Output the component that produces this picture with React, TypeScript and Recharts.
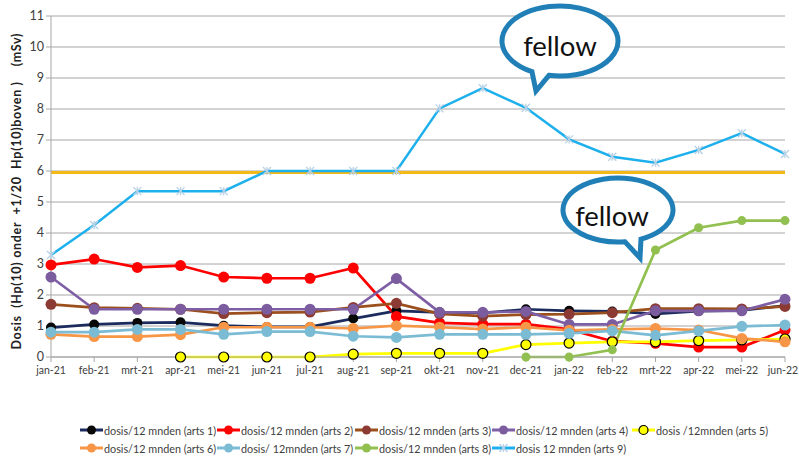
import React from 'react';
import { LineChart, Line, XAxis, YAxis, CartesianGrid, ReferenceLine } from 'recharts';

const months = ['jan-21','feb-21','mrt-21','apr-21','mei-21','jun-21','jul-21','aug-21','sep-21','okt-21','nov-21','dec-21','jan-22','feb-22','mrt-22','apr-22','mei-22','jun-22'];

const arts1 = [0.95,1.05,1.10,1.12,1.01,0.97,0.97,1.24,1.49,1.44,1.42,1.54,1.49,1.47,1.39,1.48,1.50,1.66];
const arts2 = [2.97,3.16,2.89,2.95,2.58,2.54,2.54,2.87,1.31,1.10,1.06,1.06,0.89,0.51,0.44,0.32,0.32,0.87];
const arts3 = [1.70,1.59,1.57,1.54,1.40,1.43,1.45,1.60,1.73,1.39,1.32,1.37,1.38,1.43,1.56,1.56,1.55,1.63];
const arts4 = [2.58,1.54,1.54,1.54,1.54,1.54,1.54,1.54,2.53,1.44,1.44,1.47,1.05,1.05,1.49,1.49,1.49,1.86];
const arts5 = [null,null,null,0,0,0,0,0.09,0.12,0.12,0.12,0.40,0.45,0.49,0.49,0.53,0.55,0.58];
const arts6 = [0.73,0.66,0.66,0.72,0.96,0.96,0.96,0.92,1.01,0.96,0.90,0.96,0.86,0.89,0.92,0.87,0.60,0.49];
const arts7 = [0.80,0.80,0.89,0.89,0.73,0.82,0.82,0.67,0.63,0.73,0.73,0.73,0.76,0.84,0.70,0.84,0.99,1.03];
const arts8 = [null,null,null,null,null,null,null,null,null,null,null,0,0,0.23,3.45,4.17,4.40,4.40];
const arts9 = [3.29,4.26,5.35,5.35,5.35,6.0,6.0,6.0,6.0,8.02,8.67,8.04,7.02,6.46,6.27,6.68,7.22,6.55];

const limitValue = 5.95;
const yTicks = [0,1,2,3,4,5,6,7,8,9,10,11];

const seriesNames = [
  'dosis/12 mnden (arts 1)',
  'dosis/12 mnden (arts 2)',
  'dosis/12 mnden (arts 3)',
  'dosis/12 mnden (arts 4)',
  'dosis /12mnden (arts 5)',
  'dosis/12 mnden (arts 6)',
  'dosis/ 12mnden (arts 7)',
  'dosis/12 mnden (arts 8)',
  'dosis 12 mnden (arts 9)',
];
const seriesValues = [arts1, arts2, arts3, arts4, arts5, arts6, arts7, arts8, arts9];

type Style = { line: string; dotFill: string; dotStroke: string; r: number; kind: 'circle' | 'cross' };
const styles: Style[] = [
  { line: '#1c2b5e', dotFill: '#080808', dotStroke: '#080808', r: 5, kind: 'circle' },
  { line: '#ff0000', dotFill: '#ff0000', dotStroke: '#ff0000', r: 5.5, kind: 'circle' },
  { line: '#9b4f1c', dotFill: '#8c3b34', dotStroke: '#8c3b34', r: 5.5, kind: 'circle' },
  { line: '#7e5fa5', dotFill: '#7b5c9e', dotStroke: '#7b5c9e', r: 5.5, kind: 'circle' },
  { line: '#ffff00', dotFill: '#ffff00', dotStroke: '#000000', r: 5, kind: 'circle' },
  { line: '#f79646', dotFill: '#f79646', dotStroke: '#f79646', r: 5.5, kind: 'circle' },
  { line: '#7bbcd4', dotFill: '#7bbcd4', dotStroke: '#7bbcd4', r: 5.5, kind: 'circle' },
  { line: '#92c050', dotFill: '#92c050', dotStroke: '#92c050', r: 4.5, kind: 'circle' },
  { line: '#1eb0ec', dotFill: '#b7d1e6', dotStroke: '#b7d1e6', r: 4, kind: 'cross' },
];

const data = months.map((m, i) => {
  const row: Record<string, string | number | null> = { month: m };
  seriesValues.forEach((arr, k) => { row['a' + (k + 1)] = arr[i]; });
  return row;
});

const FONT = "Lato, 'Liberation Sans', sans-serif";

function makeDot(st: Style) {
  return (props: any) => {
    const { cx, cy, value, index } = props;
    if (value === null || value === undefined || cx == null || cy == null || isNaN(cy)) {
      return <g key={'d' + index} />;
    }
    if (st.kind === 'cross') {
      const s = st.r;
      return (
        <g key={'d' + index} stroke={st.dotStroke} strokeWidth={1.3}>
          <line x1={cx - s} y1={cy - s} x2={cx + s} y2={cy + s} />
          <line x1={cx - s} y1={cy + s} x2={cx + s} y2={cy - s} />
          <line x1={cx} y1={cy - s} x2={cx} y2={cy + s} />
        </g>
      );
    }
    return <circle key={'d' + index} cx={cx} cy={cy} r={st.r} fill={st.dotFill} stroke={st.dotStroke} strokeWidth={st.dotStroke === st.dotFill ? 0 : 1.2} />;
  };
}

function XTick(props: any) {
  const { x, y, payload, index } = props;
  const last = index === months.length - 1;
  return (
    <text x={last ? x - 2 : x} y={y} dy="0.8em" textAnchor="middle" fontSize={10.5} fill="#404040" fontFamily={FONT}>
      {payload.value}
    </text>
  );
}

function bubblePath(cx: number, cy: number, rx: number, ry: number, thA: number, thB: number, tip: [number, number]) {
  const a = (thA * Math.PI) / 180;
  const b = (thB * Math.PI) / 180;
  const ax = cx + rx * Math.cos(a), ay = cy + ry * Math.sin(a);
  const bx = cx + rx * Math.cos(b), by = cy + ry * Math.sin(b);
  return `M ${bx} ${by} A ${rx} ${ry} 0 1 0 ${ax} ${ay} L ${tip[0]} ${tip[1]} Z`;
}

function LegendIcon({ st }: { st: Style }) {
  return (
    <svg width={23} height={12} style={{ display: 'block', flex: 'none' }}>
      <line x1={0} y1={6} x2={23} y2={6} stroke={st.line} strokeWidth={3} />
      {st.kind === 'cross' ? (
        <g stroke={st.dotStroke} strokeWidth={1.2}>
          <line x1={7.5} y1={2} x2={15.5} y2={10} />
          <line x1={7.5} y1={10} x2={15.5} y2={2} />
          <line x1={11.5} y1={2} x2={11.5} y2={10} />
        </g>
      ) : (
        <circle cx={11.5} cy={6} r={4.5} fill={st.dotFill} stroke={st.dotStroke} strokeWidth={st.dotStroke === st.dotFill ? 0 : 1.2} />
      )}
    </svg>
  );
}

const legendCols = [80, 217, 355, 492, 632];

export default function App() {
  return (
    <div style={{ position: 'absolute', left: 0, top: 0, width: 799, height: 459, background: '#fff', fontFamily: FONT }}>
      <LineChart width={799} height={459} data={data} margin={{ top: 16, right: 14, bottom: 72, left: 0 }}>
        <CartesianGrid vertical={false} stroke="#a6a6a6" strokeWidth={1} />
        <XAxis
          dataKey="month"
          interval={0}
          height={30}
          tickSize={5}
          tickMargin={4}
          axisLine={{ stroke: '#a6a6a6' }}
          tickLine={{ stroke: '#a6a6a6' }}
          tick={<XTick />}
        />
        <YAxis
          width={51}
          domain={[0, 11]}
          ticks={yTicks}
          interval={0}
          tickSize={5}
          axisLine={{ stroke: '#a6a6a6' }}
          tickLine={{ stroke: '#a6a6a6' }}
          tick={{ fontSize: 12.5, fill: '#404040', fontFamily: FONT }}
        />
        <ReferenceLine y={limitValue} stroke="#f5b917" strokeWidth={3} />
        {styles.map((st, k) => (
          <Line
            key={k}
            type="linear"
            dataKey={'a' + (k + 1)}
            name={seriesNames[k]}
            stroke={st.line}
            strokeWidth={st.kind === 'cross' ? 2.5 : 2.7}
            dot={makeDot(st)}
            activeDot={false}
            isAnimationActive={false}
            connectNulls={false}
          />
        ))}
      </LineChart>

      <svg width={799} height={459} style={{ position: 'absolute', left: 0, top: 0, pointerEvents: 'none' }}>
        <text
          transform="translate(21 191.5) rotate(-90)"
          textAnchor="middle"
          fontSize={12.5}
          fontWeight="bold"
          fill="#222"
          fontFamily={FONT}
          style={{ whiteSpace: 'pre' }}
          textLength={316}
          lengthAdjust="spacing"
        >
          {'Dosis  (Hp(10) onder  +1/20  Hp(10)boven )    (mSv)'}
        </text>
        <path d={bubblePath(560, 41, 58, 35, 118.9, 101, [536, 91])} fill="#fff" stroke="#1f7fb6" strokeWidth={5} strokeLinejoin="miter" />
        <text x={560} y={56} textAnchor="middle" fontSize={27.5} fill="#111" fontFamily={FONT}>fellow</text>
        <path d={bubblePath(618, 210, 55, 32, 82.7, 65.3, [640, 258])} fill="#fff" stroke="#1f7fb6" strokeWidth={5} strokeLinejoin="miter" />
        <text x={612} y={226} textAnchor="middle" fontSize={27.5} fill="#111" fontFamily={FONT}>fellow</text>
      </svg>

      <div style={{ position: 'absolute', left: 0, top: 422, width: 799, height: 36, fontSize: 10.8, color: '#404040' }}>
        {seriesNames.map((name, k) => {
          const row = Math.floor(k / 5);
          const col = k % 5;
          return (
            <div key={k} style={{ position: 'absolute', left: legendCols[col], top: row * 18, height: 16, display: 'flex', alignItems: 'center', whiteSpace: 'nowrap' }}>
              <LegendIcon st={styles[k]} />
              <span style={{ marginLeft: 1 }}>{name}</span>
            </div>
          );
        })}
      </div>
    </div>
  );
}
